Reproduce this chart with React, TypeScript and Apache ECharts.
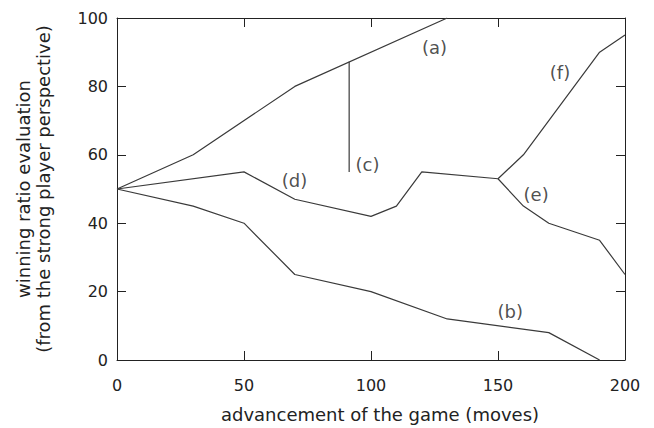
import React, { useEffect, useRef } from "react";
import * as echarts from "echarts";

const lineA: [number, number][] = [[0, 50], [30, 60], [70, 80], [130, 100]];
const lineB: [number, number][] = [[0, 50], [30, 45], [50, 40], [70, 25], [100, 20], [130, 12], [170, 8], [190, 0]];
const lineC: [number, number][] = [[91.4, 87.2], [91.4, 55]];
const lineD: [number, number][] = [[0, 50], [50, 55], [70, 47], [100, 42], [110, 45], [120, 55], [150, 53]];
const lineE: [number, number][] = [[150, 53], [160, 45], [170, 40], [190, 35], [200, 25]];
const lineF: [number, number][] = [[150, 53], [160, 60], [190, 90], [200, 95]];

const labelNames = ["(a)", "(b)", "(c)", "(d)", "(e)", "(f)"];
const labelX = [125.0, 154.8, 98.6, 69.9, 165.0, 174.4];
const labelY = [91.5, 14.3, 57.1, 52.6, 48.4, 84.2];

const xTitle = "advancement of the game (moves)";
const yTitle = "winning ratio evaluation\n(from the strong player perspective)";

const FONT = "DejaVu Sans";
const TEXT = "#222";
const AXIS = "#222";
const LINE = "#3a3a3a";

export default function App() {
  const ref = useRef<HTMLDivElement>(null);
  useEffect(() => {
    if (!ref.current) return;
    const chart = echarts.init(ref.current, undefined, { renderer: "svg" });
    const mk = (data: [number, number][]) => ({
      type: "line",
      data,
      symbol: "none",
      lineStyle: { color: LINE, width: 1.2 },
      silent: true,
      z: 3,
    });
    const tick = { show: true, inside: true, length: 9, lineStyle: { color: AXIS, width: 1 } };
    const line = { show: true, onZero: false, lineStyle: { color: AXIS, width: 1 } };
    chart.setOption({
      animation: false,
      backgroundColor: "#fff",
      grid: { left: 117, right: 29, top: 18, bottom: 66 },
      xAxis: [
        {
          type: "value",
          min: 0,
          max: 200,
          interval: 50,
          position: "bottom",
          name: xTitle,
          nameLocation: "middle",
          nameGap: 45,
          nameTextStyle: { fontFamily: FONT, fontSize: 18, color: TEXT, padding: [0, 0, 0, 18] },
          axisLine: line,
          axisTick: tick,
          axisLabel: { fontFamily: FONT, fontSize: 16, color: TEXT, margin: 17 },
          splitLine: { show: false },
        },
        {
          type: "value",
          min: 0,
          max: 200,
          interval: 50,
          position: "top",
          axisLine: line,
          axisTick: tick,
          axisLabel: { show: false },
          splitLine: { show: false },
        },
      ],
      yAxis: [
        {
          type: "value",
          min: 0,
          max: 100,
          interval: 20,
          position: "left",
          name: yTitle,
          nameLocation: "middle",
          nameGap: 64,
          nameRotate: 90,
          nameTextStyle: { fontFamily: FONT, fontSize: 18, color: TEXT, lineHeight: 20 },
          axisLine: line,
          axisTick: tick,
          axisLabel: { fontFamily: FONT, fontSize: 16, color: TEXT, margin: 9 },
          splitLine: { show: false },
        },
        {
          type: "value",
          min: 0,
          max: 100,
          interval: 20,
          position: "right",
          axisLine: line,
          axisTick: tick,
          axisLabel: { show: false },
          splitLine: { show: false },
        },
      ],
      series: [
        mk(lineA),
        mk(lineB),
        mk(lineC),
        mk(lineD),
        mk(lineE),
        mk(lineF),
        {
          type: "scatter",
          symbolSize: 0,
          silent: true,
          data: labelNames.map((n, i) => ({ value: [labelX[i], labelY[i]], name: n })),
          label: {
            show: true,
            position: "inside",
            formatter: (p: any) => p.name,
            fontFamily: FONT,
            fontSize: 18,
            color: TEXT,
          },
        },
      ],
    });
    return () => chart.dispose();
  }, []);
  return <div ref={ref} style={{ width: 654, height: 428, position: "absolute", left: 0, top: 0 }} />;
}
